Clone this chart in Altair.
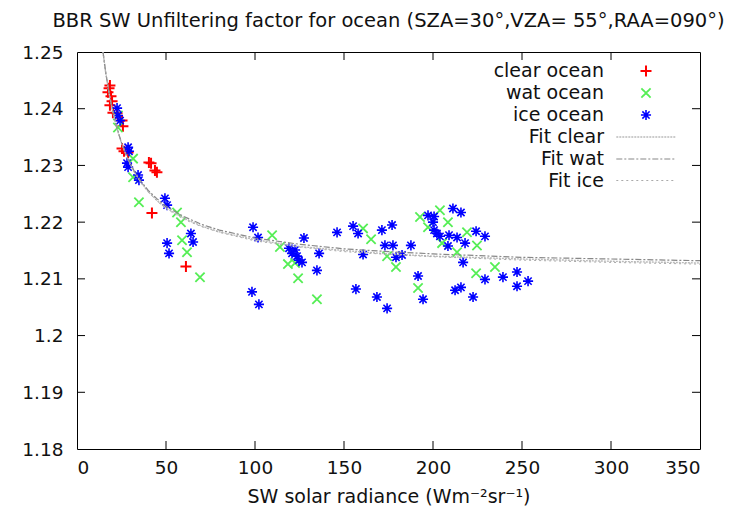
import altair as alt
import pandas as pd

series_names = ["clear ocean", "wat ocean", "ice ocean", "Fit clear", "Fit wat", "Fit ice"]

clear_x = [18.5, 18.0, 17.4, 19.1, 19.7, 18.5, 20.2, 22.5, 25.3, 25.8, 25.3, 26.4, 28.7,
           40.4, 41.6, 43.8, 44.9, 42.1, 61.2]
clear_y = [1.2441, 1.2436, 1.2429, 1.2422, 1.2413, 1.2406, 1.2393, 1.2392, 1.2379, 1.2369,
           1.2330, 1.2325, 1.2323, 1.2305, 1.2304, 1.2291, 1.2288, 1.2216, 1.2122]

wat_x = [23.0, 23.0, 31.5, 31.5, 34.8, 56.2, 58.4, 59.0, 61.8, 69.1, 109.6, 114.0, 118.5,
         122.5, 124.2, 134.8, 160.7, 165.2, 174.2, 179.2, 192.7, 203.9, 208.4, 197.2, 219.1,
         224.7, 213.5, 205.1, 234.8, 224.2, 191.6]
wat_y = [1.2388, 1.2367, 1.2312, 1.2279, 1.2235, 1.2217, 1.2200, 1.2168, 1.2147, 1.2103,
         1.2177, 1.2156, 1.2126, 1.2128, 1.2101, 1.2064, 1.2189, 1.2170, 1.2140, 1.2121,
         1.2209, 1.2221, 1.2200, 1.2191, 1.2182, 1.2159, 1.2147, 1.2163, 1.2121, 1.2110,
         1.2084]

ice_x = [22.5, 23.0, 24.2, 28.7, 29.2, 28.1, 28.7, 34.3, 34.8, 49.4, 50.6, 64.0, 65.2, 50.6,
         51.7, 98.9, 101.7, 120.8, 122.5, 119.1, 123.6, 124.7, 126.4, 127.5, 136.0, 134.8,
         146.1, 155.1, 157.9, 160.7, 171.3, 177.0, 173.0, 177.5, 179.2, 182.6, 187.6, 197.2,
         200.6, 200.0, 211.2, 215.7, 202.2, 203.9, 209.0, 213.5, 208.4, 218.0, 224.2, 229.2,
         216.9, 191.6, 194.4, 174.2, 212.4, 215.7, 222.5, 229.2, 239.3, 247.2, 247.2, 253.4,
         98.3, 102.2, 156.7, 168.5, 200.6]
ice_y = [1.2401, 1.2388, 1.2379, 1.2332, 1.2325, 1.2304, 1.2297, 1.2283, 1.2274, 1.2242,
         1.2230, 1.2180, 1.2165, 1.2163, 1.2145, 1.2191, 1.2173, 1.2145, 1.2151, 1.2154,
         1.2140, 1.2133, 1.2129, 1.2172, 1.2145, 1.2115, 1.2182, 1.2193, 1.2180, 1.2143,
         1.2186, 1.2195, 1.2159, 1.2159, 1.2138, 1.2142, 1.2159, 1.2212, 1.2210, 1.2200,
         1.2224, 1.2217, 1.2180, 1.2175, 1.2177, 1.2173, 1.2158, 1.2163, 1.2184, 1.2175,
         1.2129, 1.2105, 1.2064, 1.2048, 1.2080, 1.2085, 1.2068, 1.2099, 1.2103, 1.2112,
         1.2087, 1.2096, 1.2077, 1.2055, 1.2082, 1.2068, 1.2186]

fit_x = [14.6, 16, 18, 20, 22, 25, 28, 32, 36, 40, 45, 50, 60, 70, 80, 100, 125, 150, 175,
         200, 250, 300, 350]
fit_clear_y = [1.2500, 1.2466, 1.2427, 1.2396, 1.2370, 1.2339, 1.2315, 1.2289, 1.2270, 1.2254,
               1.2238, 1.2225, 1.2207, 1.2193, 1.2183, 1.2169, 1.2157, 1.2150, 1.2144, 1.2140,
               1.2135, 1.2131, 1.2128]
fit_wat_y = [1.2500, 1.2467, 1.2428, 1.2397, 1.2371, 1.2340, 1.2316, 1.2291, 1.2272, 1.2256,
             1.2241, 1.2228, 1.2210, 1.2196, 1.2186, 1.2172, 1.2161, 1.2153, 1.2148, 1.2144,
             1.2138, 1.2135, 1.2132]
fit_ice_y = [1.2502, 1.2468, 1.2428, 1.2396, 1.2370, 1.2339, 1.2314, 1.2289, 1.2269, 1.2253,
             1.2237, 1.2224, 1.2205, 1.2192, 1.2182, 1.2167, 1.2156, 1.2148, 1.2143, 1.2139,
             1.2133, 1.2129, 1.2126]

x_tick_values = [0, 50, 100, 150, 200, 250, 300, 350]
y_tick_values = [1.18, 1.19, 1.2, 1.21, 1.22, 1.23, 1.24, 1.25]
x_inner_ticks = [50, 100, 150, 200, 250, 300]
y_inner_ticks = [1.19, 1.2, 1.21, 1.22, 1.23, 1.24]

W, H = 623, 397
FONT = "DejaVu Sans"
SYM = 484  # symbol area: sqrt = 22 px, custom paths scaled by 11

pts = pd.concat([
    pd.DataFrame({"x": clear_x, "y": clear_y, "series": "clear ocean"}),
    pd.DataFrame({"x": wat_x, "y": wat_y, "series": "wat ocean"}),
    pd.DataFrame({"x": ice_x, "y": ice_y, "series": "ice ocean"}),
], ignore_index=True)
fits = pd.concat([
    pd.DataFrame({"x": fit_x, "y": fit_clear_y, "series": "Fit clear"}),
    pd.DataFrame({"x": fit_x, "y": fit_wat_y, "series": "Fit wat"}),
    pd.DataFrame({"x": fit_x, "y": fit_ice_y, "series": "Fit ice"}),
], ignore_index=True)

plus = "M-0.5,0L0.5,0M0,-0.5L0,0.5"
cross = "M-0.42,-0.42L0.42,0.42M-0.42,0.42L0.42,-0.42"
star = "M-0.46,0L0.46,0M0,-0.46L0,0.46M-0.33,-0.33L0.33,0.33M-0.33,0.33L0.33,-0.33"
hline = "M-2.7,0L2.7,0"

xscale = alt.Scale(domain=[0, 350], nice=False, zero=False)
yscale = alt.Scale(domain=[1.18, 1.25], nice=False, zero=False)

legend = alt.Legend(title=None, orient="none", legendX=557, legendY=7,
                    labelAlign="right", labelOffset={"expr": "-54"}, labelFontSize=19,
                    labelFont=FONT, labelColor="#111111", symbolSize=SYM,
                    rowPadding=0, padding=0, labelLimit=300)

color = alt.Color("series:N", scale=alt.Scale(
    domain=series_names,
    range=["#ff0000", "#55ee55", "#0000ff", "#bbbbbb", "#888888", "#aaaaaa"]), legend=legend)
shape = alt.Shape("series:N", scale=alt.Scale(
    domain=series_names, range=[plus, cross, star, hline, hline, hline]), legend=legend)
dash = alt.StrokeDash("series:N", scale=alt.Scale(
    domain=series_names,
    range=[[1, 0], [1, 0], [1, 0], [2, 1], [6, 2, 2, 2], [2, 3]]), legend=legend)
sw = alt.StrokeWidth("series:N", scale=alt.Scale(
    domain=series_names, range=[2, 1, 2, 1.2, 1.2, 1.2]), legend=legend)

X = alt.X("x:Q", scale=xscale, axis=alt.Axis(
    values=x_tick_values, labelPadding=9, title="SW solar radiance (Wm⁻²sr⁻¹)",
    titleFont=FONT, titleFontSize=19, titleFontWeight="normal", titleColor="#111111",
    titlePadding=11))
Y = alt.Y("y:Q", scale=yscale, axis=alt.Axis(
    values=y_tick_values, format=".2~f", labelPadding=14, title=None))

points = alt.Chart(pts).mark_point(filled=False, size=SYM, opacity=1).encode(
    x=X, y=Y, color=color, shape=shape, strokeWidth=sw)

lines = alt.Chart(fits).mark_line(clip=True).encode(
    x=alt.X("x:Q", scale=xscale), y=alt.Y("y:Q", scale=yscale),
    color=color, strokeDash=dash, strokeWidth=sw, detail="series:N")

xt = pd.DataFrame({"x": x_inner_ticks})
yt = pd.DataFrame({"y": y_inner_ticks})
tb = alt.Chart(xt).mark_rule(color="black", strokeWidth=1).encode(
    x=alt.X("x:Q", scale=xscale), y=alt.value(H), y2=alt.value(H - 8))
tt = alt.Chart(xt).mark_rule(color="black", strokeWidth=1).encode(
    x=alt.X("x:Q", scale=xscale), y=alt.value(0), y2=alt.value(8))
tl = alt.Chart(yt).mark_rule(color="black", strokeWidth=1).encode(
    y=alt.Y("y:Q", scale=yscale), x=alt.value(0), x2=alt.value(8))
tr = alt.Chart(yt).mark_rule(color="black", strokeWidth=1).encode(
    y=alt.Y("y:Q", scale=yscale), x=alt.value(W), x2=alt.value(W - 8))

chart = alt.layer(points, lines, tb, tt, tl, tr).properties(
    width=W, height=H,
    title=alt.TitleParams(
        "BBR SW Unfiltering factor for ocean (SZA=30°,VZA= 55°,RAA=090°)",
        font=FONT, fontSize=19.5, fontWeight="normal", color="#111111",
        anchor="middle", offset=12),
    autosize=alt.AutoSizeParams(type="none"),
    padding={"left": 77, "top": 52, "right": 35, "bottom": 69},
    background="white",
).configure_view(stroke="black", strokeWidth=1).configure_axis(
    grid=False, domain=False, ticks=False, labelFont=FONT, labelFontSize=18.5,
    labelColor="#111111")

chart.save("out.html", embed_options={"renderer": "svg", "actions": False})
